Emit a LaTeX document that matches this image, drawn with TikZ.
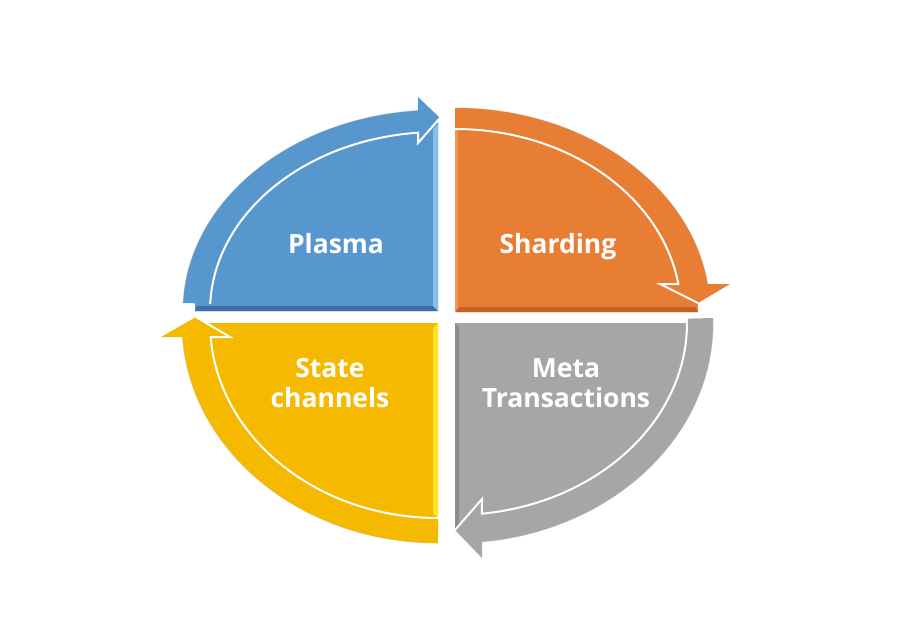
\documentclass[tikz,border=0pt]{standalone}
\usepackage{fontspec}
\setmainfont{Open Sans}
\definecolor{bluec}{RGB}{88,150,206}
\definecolor{bluedk}{RGB}{62,112,165}
\definecolor{bluelt}{RGB}{132,192,242}
\definecolor{orangec}{RGB}{232,125,52}
\definecolor{orangedk}{RGB}{194,98,38}
\definecolor{orangelt}{RGB}{242,150,90}
\definecolor{grayc}{RGB}{166,166,166}
\definecolor{graydk}{RGB}{140,140,140}
\definecolor{yellowc}{RGB}{245,185,0}
\definecolor{yellowlt}{RGB}{255,228,40}
\begin{document}
\begin{tikzpicture}[x=1pt,y=-1pt,
  hl/.style={draw=white,line width=2pt,line join=miter},
  shadowline/.style={draw=black!18,line width=1pt},
  lbl/.style={text=white,font=\fontsize{26.5}{30}\selectfont\bfseries,align=center,inner sep=0pt,anchor=base}]
\useasboundingbox[fill=white] (0,0) rectangle (900,632);

% ---------- Blue (Plasma) ----------
\begin{scope}[shift={(438,311)}]
  \fill[bluec] (0,0) -- (-243,0) arc[start angle=180,end angle=270,x radius=243,y radius=190] -- cycle;
  \fill[bluedk] (-243,0) -- (0,0) -- (-5,-5) -- (-241,-5) -- cycle;
  \fill[bluelt] (-5,-182) -- (0,-187) -- (0,0) -- (-5,-5) -- cycle;
  \draw[shadowline] (182.3:255 and 201) arc[start angle=182.3,end angle=265.5,x radius=255,y radius=201];
  \fill[bluec] (182.3:255 and 201) arc[start angle=182.3,end angle=265.5,x radius=255,y radius=201]
     -- (-20,-214) -- (2,-193) -- (-20,-168) -- (265:228 and 179)
     arc[start angle=265,end angle=182.3,x radius=228,y radius=179] -- cycle;
  \draw[hl] (182.3:228 and 179) arc[start angle=182.3,end angle=265,x radius=228,y radius=179] -- (-20,-168) -- (2,-193);
\end{scope}

% ---------- Orange (Sharding) ----------
\begin{scope}[shift={(455,312)}]
  \fill[orangec] (0,0) -- (0,-194) arc[start angle=270,end angle=360,x radius=243,y radius=194] -- cycle;
  \fill[orangedk] (0,0) -- (243,0) -- (240,-5) -- (4,-5) -- cycle;
  \fill[orangelt] (0,0) -- (0,-190) -- (3,-187) -- (3,-4) -- cycle;
  \draw[shadowline] (270:255 and 204) arc[start angle=270,end angle=352.11,x radius=255,y radius=204];
  \fill[orangec] (270:255 and 204) arc[start angle=270,end angle=352.11,x radius=255,y radius=204]
     -- (275,-28) -- (243,-9) -- (205,-28) -- (351.2:226 and 183)
     arc[start angle=351.2,end angle=270,x radius=226,y radius=183] -- cycle;
  \draw[hl] (270:226 and 183) arc[start angle=270,end angle=351.2,x radius=226,y radius=183] -- (205,-28) -- (243,-9);
\end{scope}

% ---------- Gray (Meta Transactions) ----------
\begin{scope}[shift={(455,323)}]
  \fill[grayc] (0,0) -- (245,0) arc[start angle=0,end angle=90,x radius=245,y radius=206] -- cycle;
  \fill[graydk] (0,0) -- (4,4) -- (4,200) -- (0,206) -- cycle;
  \draw[shadowline] (-1.3:258 and 220) arc[start angle=-1.3,end angle=83.99,x radius=258,y radius=220];
  \fill[grayc] (-1.3:258 and 220) arc[start angle=-1.3,end angle=83.99,x radius=258,y radius=220]
     -- (27,235) -- (0,207) -- (27,176) -- (83.32:232 and 192)
     arc[start angle=83.32,end angle=-1.3,x radius=232,y radius=192] -- cycle;
  \draw[hl] (-1.3:232 and 192) arc[start angle=-1.3,end angle=83.32,x radius=232,y radius=192] -- (27,176) -- (0,207);
\end{scope}

% ---------- Yellow (State channels) ----------
\begin{scope}[shift={(438,323)}]
  \fill[yellowc] (0,0) -- (0,207) arc[start angle=90,end angle=180,x radius=233,y radius=207] -- cycle;
  \fill[yellowlt] (0,0) -- (0,195) -- (-5,190) -- (-5,5) -- cycle;
  \draw[shadowline] (90:256 and 220) arc[start angle=90,end angle=176.35,x radius=256,y radius=220];
  \fill[yellowc] (90:256 and 220) arc[start angle=90,end angle=176.35,x radius=256,y radius=220]
     -- (-277,14) -- (-242,-6) -- (-208,14) -- (175.88:228 and 195)
     arc[start angle=175.88,end angle=90,x radius=228,y radius=195] -- cycle;
  \draw[hl] (90:228 and 195) arc[start angle=90,end angle=175.88,x radius=228,y radius=195] -- (-208,14) -- (-242,-6);
\end{scope}

% ---------- Labels ----------
\node[lbl] (plasma) at (336,253) {Plasma};
\node[lbl] (sharding) at (558,253) {Sharding};
\node[lbl] (state) at (330,407) {State\\channels};
\node[lbl] (meta) at (566,407) {Meta\\Transactions};
\end{tikzpicture}
\end{document}
